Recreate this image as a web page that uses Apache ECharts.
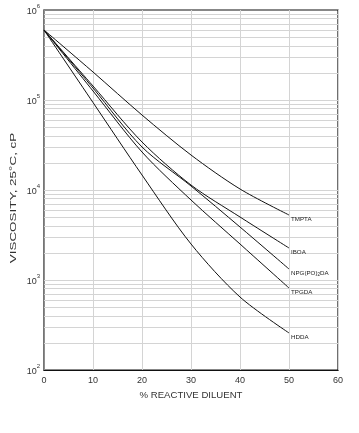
<!DOCTYPE html>
<html>
<head>
<meta charset="utf-8">
<script src="https://cdn.jsdelivr.net/npm/echarts@6/dist/echarts.min.js"></script>
<style>
html,body{margin:0;padding:0;background:#fff;}
#c{width:359px;height:433px;}
</style>
</head>
<body>
<div id="c"></div>
<script>
// % reactive diluent
var xValues = [0, 10, 20, 30, 40, 50];
// viscosity, cP
var TMPTA = [599500, 204700, 68100, 24480, 10260, 5275];
var IBOA  = [599500, 143100, 34150, 11360, 5012, 2268];
var NPG   = [599500, 135900, 30050, 11080, 3880, 1325];
var TPGDA = [599500, 125900, 26430, 7743, 2512, 815];
var HDDA  = [599500, 93800, 14680, 2512, 647, 258];
var seriesNames = ['TMPTA', 'IBOA', 'NPG(PO){sub|2}DA', 'TPGDA', 'HDDA'];
var xTicks = [0, 10, 20, 30, 40, 50, 60];
var decades = [100, 1000, 10000, 100000, 1000000];
var minorMultipliers = [2, 3, 4, 5, 6, 7, 8, 9];
var yTitle = 'VISCOSITY, 25°C, cP';
var xTitle = '% REACTIVE DILUENT';

var minorLines = [];
decades.slice(0, -1).forEach(function (d) {
  minorMultipliers.forEach(function (m) { minorLines.push({ yAxis: d * m }); });
});
var majorLines = decades.slice(1, -1).map(function (d) { return { yAxis: d }; });

var FONT = '"Liberation Sans", Arial, sans-serif';
var allData = [TMPTA, IBOA, NPG, TPGDA, HDDA];

var series = allData.map(function (arr, i) {
  return {
    type: 'line',
    name: seriesNames[i],
    data: xValues.map(function (x, j) { return [x, arr[j]]; }),
    smooth: 0.3,
    symbol: 'none',
    lineStyle: { color: '#111', width: 1 },
    z: 5,
    endLabel: {
      show: true,
      formatter: seriesNames[i],
      fontFamily: FONT,
      fontSize: 6.2,
      color: '#222',
      distance: 2,
      offset: [0, 4],
      rich: { sub: { fontSize: 4.5, verticalAlign: 'bottom', padding: [4, 0, 0, 0] } }
    }
  };
});
series.push({
  type: 'line',
  data: [],
  silent: true,
  markLine: {
    silent: true,
    symbol: 'none',
    label: { show: false },
    animation: false,
    lineStyle: { color: '#d4d4d4', type: 'solid', width: 1 },
    data: minorLines.concat(majorLines)
  },
  z: 1
});

var chart = echarts.init(document.getElementById('c'));
chart.setOption({
  animation: false,
  backgroundColor: '#fff',
  grid: { left: 44, right: 21, top: 10, bottom: 63, show: true, borderColor: '#111', borderWidth: 1.2, outerBoundsMode: 'none', containLabel: false },
  graphic: [{
    type: 'text',
    x: 13, y: 198,
    rotation: Math.PI / 2,
    scaleX: 1.4,
    style: { text: yTitle, font: '9.6px "Liberation Sans", Arial, sans-serif', fill: '#333', align: 'center', verticalAlign: 'middle' }
  }],
  xAxis: {
    type: 'value', min: 0, max: 60, interval: 10,
    name: xTitle, nameLocation: 'middle', nameGap: 19,
    nameTextStyle: { fontFamily: FONT, fontSize: 9.6, color: '#333' },
    axisLine: { show: true, lineStyle: { color: '#111', width: 1.2 } },
    axisTick: { show: false },
    axisLabel: { fontFamily: FONT, fontSize: 9, color: '#333', margin: 6 },
    splitLine: { show: true, lineStyle: { color: '#d4d4d4', width: 1 } }
  },
  yAxis: {
    type: 'log', logBase: 10, min: 100, max: 1000000,
    axisLine: { show: true, lineStyle: { color: '#777', width: 1.5 } },
    axisTick: { show: false },
    axisLabel: {
      margin: 4,
      formatter: function (v) {
        var e = Math.round(Math.log10(v));
        return '{b|10}{s|' + e + '}';
      },
      rich: {
        b: { fontFamily: FONT, fontSize: 9, color: '#333', lineHeight: 13, verticalAlign: 'bottom' },
        s: { fontFamily: FONT, fontSize: 6, color: '#333', lineHeight: 13, verticalAlign: 'top' }
      }
    },
    splitLine: { show: false }
  },
  series: series
});
</script>
</body>
</html>
